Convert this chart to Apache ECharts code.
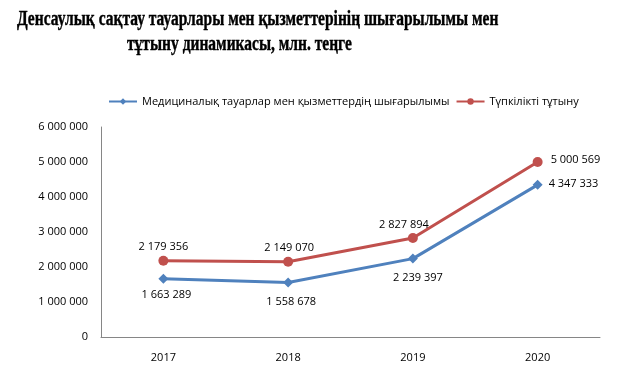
<!DOCTYPE html>
<html><head><meta charset="utf-8">
<script src="https://cdn.jsdelivr.net/npm/echarts@6/dist/echarts.min.js"></script>
<style>html,body{margin:0;padding:0;background:#fff}#c{width:644px;height:384px}</style>
</head><body><div id="c"></div>
<script>
const categories = ['2017', '2018', '2019', '2020'];
const production = [1663289, 1558678, 2239397, 4347333];
const consumption = [2179356, 2149070, 2827894, 5000569];
const seriesNames = ['Медициналық тауарлар мен қызметтердің шығарылымы', 'Түпкілікті тұтыну'];
const titleLines = ['Денсаулық сақтау тауарлары мен қызметтерінің шығарылымы мен', 'тұтыну динамикасы, млн. теңге'];

const fmt = v => String(v).replace(/\B(?=(\d{3})+(?!\d))/g, ' ');
const chart = echarts.init(document.getElementById('c'));
const lblFont = {fontFamily: 'Open Sans', fontSize: 11, color: '#000'};
const titleFont = 'bold 20px "Liberation Serif"';
const prodOffsets = [[3, -3], [3, 0], [5, 0], null];
const consOffsets = [[0, 0], [1, 0], [-9, 0], null];
chart.setOption({
  animation: false,
  graphic: [
    {type: 'text', x: 17, y: 20, scaleX: 0.775, style: {text: titleLines[0], font: titleFont, fill: '#000', stroke: '#000', lineWidth: 0.4, verticalAlign: 'middle'}},
    {type: 'text', x: 127, y: 45, scaleX: 0.775, style: {text: titleLines[1], font: titleFont, fill: '#000', stroke: '#000', lineWidth: 0.4, verticalAlign: 'middle'}}
  ],
  legend: {
    left: 103, top: 91, itemWidth: 28, itemHeight: 8, itemGap: 6,
    textStyle: {fontFamily: 'Open Sans', fontSize: 11, color: '#000'},
    data: seriesNames
  },
  grid: {left: 101, right: 44, top: 127, bottom: 47},
  xAxis: {
    type: 'category', data: categories, boundaryGap: true,
    axisLine: {lineStyle: {color: '#868686'}}, axisTick: {show: false},
    axisLabel: {margin: 15, ...lblFont}
  },
  yAxis: {
    type: 'value', min: 0, max: 6000000, interval: 1000000,
    axisLine: {show: true, lineStyle: {color: '#868686'}}, axisTick: {show: false},
    splitLine: {show: false},
    axisLabel: {margin: 13, formatter: v => fmt(v), ...lblFont}
  },
  series: [
    {
      name: seriesNames[0], type: 'line',
      symbol: 'diamond', symbolSize: 10, color: '#4F81BD',
      lineStyle: {width: 3, color: '#4F81BD'}, itemStyle: {color: '#4F81BD'},
      label: {show: true, position: 'bottom', distance: 9, formatter: p => fmt(p.value), ...lblFont},
      data: production.map((v, i) => i === 3
        ? {value: v, label: {position: 'right', distance: 6, offset: [0, -1]}}
        : {value: v, label: {offset: prodOffsets[i]}})
    },
    {
      name: seriesNames[1], type: 'line',
      symbol: 'circle', symbolSize: 10, color: '#C0504D',
      lineStyle: {width: 3, color: '#C0504D'}, itemStyle: {color: '#C0504D'},
      label: {show: true, position: 'top', distance: 3, formatter: p => fmt(p.value), ...lblFont},
      data: consumption.map((v, i) => i === 3
        ? {value: v, label: {position: 'right', distance: 8, offset: [0, -2]}}
        : {value: v, label: {offset: consOffsets[i]}})
    }
  ]
});
</script></body></html>
